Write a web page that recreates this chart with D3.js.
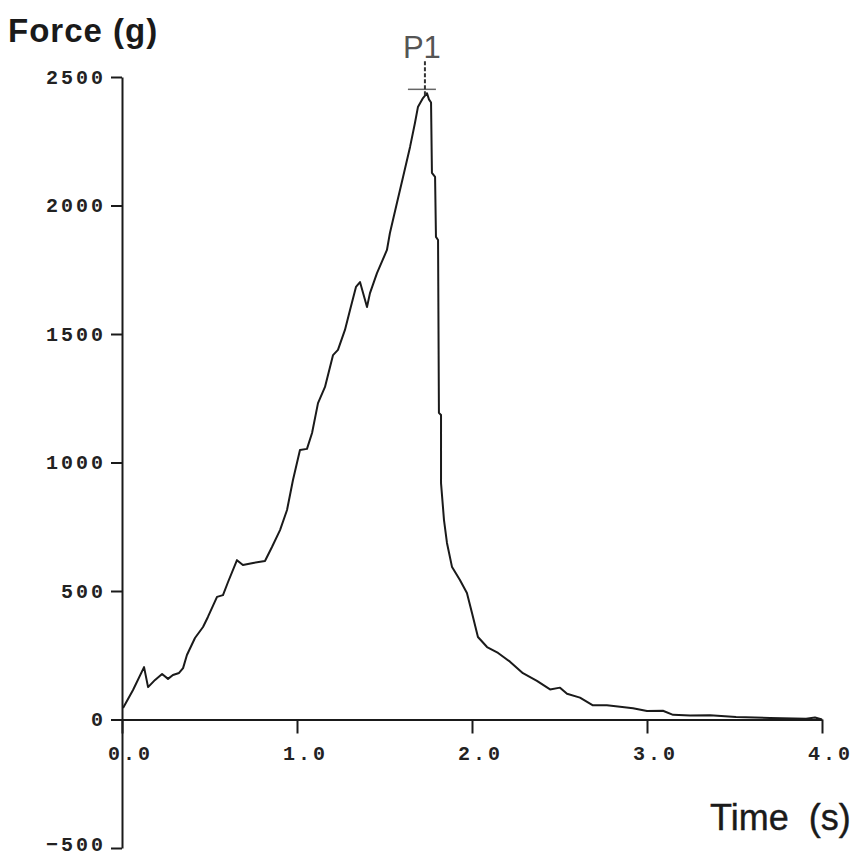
<!DOCTYPE html>
<html>
<head>
<meta charset="utf-8">
<script src="https://cdn.jsdelivr.net/npm/d3@7"></script>
<style>
  body { margin: 0; background: #fff; }
  svg { display: block; }
  .tick text { font-family: "Liberation Mono", monospace; font-weight: bold; fill: #222; }
</style>
</head>
<body>
<svg width="859" height="855"></svg>
<script>
// time (s)
const times = [0.006, 0.063, 0.126, 0.149, 0.189, 0.229, 0.263, 0.291, 0.326, 0.349,
  0.371, 0.417, 0.463, 0.491, 0.543, 0.577, 0.606, 0.657, 0.691, 0.749,
  0.817, 0.857, 0.903, 0.943, 0.977, 1.017, 1.057, 1.086, 1.12, 1.16,
  1.206, 1.234, 1.274, 1.303, 1.337, 1.36, 1.4, 1.417, 1.457, 1.514,
  1.531, 1.571, 1.606, 1.646, 1.674, 1.691, 1.72, 1.743, 1.754, 1.766,
  1.771, 1.789, 1.794, 1.806, 1.811, 1.823, 1.823, 1.84, 1.857, 1.886,
  1.931, 1.971, 2.0, 2.034, 2.086, 2.149, 2.217, 2.291, 2.371, 2.446,
  2.503, 2.543, 2.617, 2.691, 2.771, 2.846, 2.92, 3.0, 3.091, 3.149,
  3.246, 3.36, 3.509, 3.703, 3.909, 3.96, 4.0];
// force (g)
const forces = [45, 115, 204, 126, 154, 177, 158, 173, 181, 200,
  251, 317, 360, 399, 477, 484, 535, 620, 601, 609,
  617, 671, 737, 815, 932, 1049, 1053, 1115, 1231, 1294,
  1418, 1438, 1516, 1593, 1683, 1702, 1605, 1659, 1737, 1827,
  1893, 2010, 2111, 2228, 2321, 2383, 2418, 2437, 2413, 2401,
  2127, 2111, 1878, 1866, 1193, 1185, 920, 776, 687, 593,
  543, 492, 414, 321, 282, 259, 225, 180, 150, 117,
  124, 100, 85, 55, 55, 50, 44, 33, 34, 18,
  16, 17, 10, 6, 3, 8, 0];
const xTicks = [0, 1, 2, 3, 4];
const yTicks = [-500, 0, 500, 1000, 1500, 2000, 2500];
const peakTime = 1.731;
const peakForce = 2452;
const peakLabel = "P1";

const svg = d3.select("svg");
const x = d3.scaleLinear().domain([0, 4]).range([122, 822]);
const y = d3.scaleLinear().domain([-500, 2500]).range([848, 77]);

const data = times.map((t, i) => ({ t: t, f: forces[i] }));

// axes
const yAxis = d3.axisLeft(y).tickValues(yTicks).tickSize(11).tickSizeOuter(0).tickPadding(8)
    .tickFormat(d3.format("d"));
const gy = svg.append("g")
    .attr("transform", `translate(${x(0)},0)`)
    .call(yAxis);
gy.selectAll("path, line").attr("stroke", "#1a1a1a").attr("stroke-width", 2);
gy.selectAll(".tick text")
    .style("font-size", "20px")
    .attr("letter-spacing", 3)
    .attr("dx", 3)
    .attr("dy", d => d < 0 ? "0.1em" : "0.32em");

const xAxis = d3.axisBottom(x).tickValues(xTicks).tickSize(14).tickSizeOuter(0).tickPadding(12)
    .tickFormat(d3.format(".1f"));
const gx = svg.append("g")
    .attr("transform", `translate(0,${y(0)})`)
    .call(xAxis);
gx.selectAll("path, line").attr("stroke", "#1a1a1a").attr("stroke-width", 2);
gx.selectAll(".tick text")
    .style("font-size", "20px")
    .attr("letter-spacing", 3)
    .attr("dx", 8);

// curve
const line = d3.line()
    .x(d => x(d.t))
    .y(d => y(d.f));

svg.append("path")
    .datum(data)
    .attr("d", line)
    .attr("fill", "none")
    .attr("stroke", "#1a1a1a")
    .attr("stroke-width", 2)
    .attr("stroke-linejoin", "round");

// peak marker
const px = x(peakTime), py = y(peakForce);
svg.append("line")
    .attr("x1", px - 17).attr("x2", px + 11)
    .attr("y1", py).attr("y2", py)
    .attr("stroke", "#666").attr("stroke-width", 1.5);
svg.append("line")
    .attr("x1", px).attr("x2", px)
    .attr("y1", py - 28).attr("y2", py + 8)
    .attr("stroke", "#333").attr("stroke-width", 2)
    .attr("stroke-dasharray", "4,2");
svg.append("text")
    .attr("x", px - 22).attr("y", py - 31)
    .style("font-family", "Liberation Sans, Arial, sans-serif")
    .style("font-size", "31px")
    .attr("fill", "#555")
    .text(peakLabel);

// axis titles
svg.append("text")
    .attr("x", 8).attr("y", 42)
    .style("font-family", "Liberation Sans, Arial, sans-serif")
    .style("font-size", "33px")
    .style("font-weight", "bold")
    .attr("letter-spacing", 1)
    .attr("fill", "#1a1a1a")
    .text("Force (g)");

svg.append("text")
    .attr("x", 710).attr("y", 830)
    .style("font-family", "Liberation Sans, Arial, sans-serif")
    .style("font-size", "36px")
    .style("white-space", "pre")
    .attr("stroke", "#1a1a1a").attr("stroke-width", 0.4)
    .attr("fill", "#1a1a1a")
    .text("Time  (s)");
</script>
</body>
</html>
